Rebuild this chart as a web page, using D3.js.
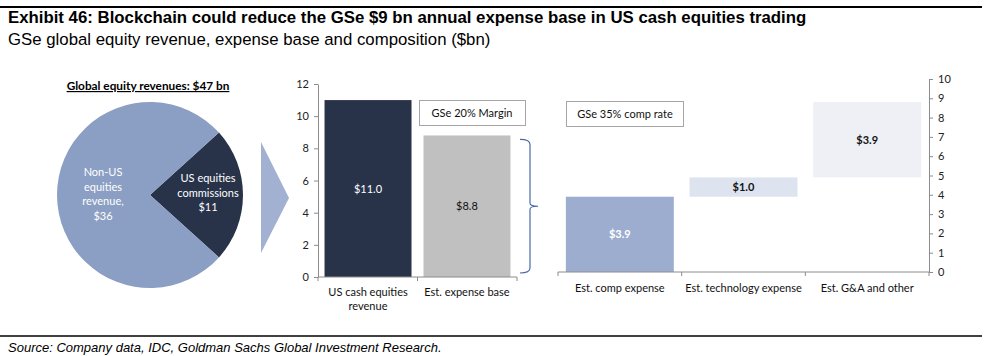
<!DOCTYPE html>
<html><head><meta charset="utf-8">
<script src="https://cdnjs.cloudflare.com/ajax/libs/d3/7.8.5/d3.min.js"></script>
<style>
body{margin:0;background:#fff;}
svg{display:block;}
</style></head>
<body><svg id="c" width="993" height="356"></svg>
<script>
// ---- data ----
const titleText = "Exhibit 46: Blockchain could reduce the GSe $9 bn annual expense base in US cash equities trading";
const subtitleText = "GSe global equity revenue, expense base and composition ($bn)";
const sourceText = "Source: Company data, IDC, Goldman Sachs Global Investment Research.";
const pieTitle = "Global equity revenues: $47 bn";
const pieLabels = [["US equities", "commissions", "$11"], ["Non-US", "equities", "revenue,", "$36"]];
const pieValues = [11, 36];
const leftCats = ["US cash equities revenue", "Est. expense base"];
const leftValues = [11.0, 8.8];
const leftValueLabels = ["$11.0", "$8.8"];
const leftTicks = [0, 2, 4, 6, 8, 10, 12];
const leftNote = "GSe 20% Margin";
const rightCats = ["Est. comp expense", "Est. technology expense", "Est. G&A and other"];
const rightValues = [3.9, 1.0, 3.9];
const rightValueLabels = ["$3.9", "$1.0", "$3.9"];
const rightTicks = [0, 1, 2, 3, 4, 5, 6, 7, 8, 9, 10];
const rightNote = "GSe 35% comp rate";

// ---- styles ----
const FONT = "Lato, 'Open Sans', sans-serif";
const HFONT = "'Liberation Sans', Arial, sans-serif";
const C_DARK = "#28334a", C_PIE = "#8b9ec3", C_ARROW = "#a2b1d1", C_GREY = "#c0c0c0";
const rightColors = ["#9dadcf", "#dde3ef", "#eef0f6"];
const rightTextColors = ["#fff", "#111", "#111"];
const AXIS = "#8c8c8c";

const svg = d3.select("#c");

// header
svg.append("line").attr("x1", 0).attr("x2", 982).attr("y1", 7).attr("y2", 7).attr("stroke", "#000").attr("stroke-width", 2);
svg.append("text").attr("x", 8).attr("y", 23).text(titleText)
  .attr("font-family", HFONT).attr("font-weight", "bold").attr("font-size", 16.8);
svg.append("text").attr("x", 8).attr("y", 45).text(subtitleText)
  .attr("font-family", HFONT).attr("font-size", 16.8);
// footer
svg.append("line").attr("x1", 0).attr("x2", 982).attr("y1", 336).attr("y2", 336).attr("stroke", "#000").attr("stroke-width", 1.5);
svg.append("text").attr("x", 8).attr("y", 352).text(sourceText)
  .attr("font-family", HFONT).attr("font-style", "italic").attr("font-size", 13);

// ---- pie ----
const pcx = 150, pcy = 195, pr = 93;
const half = Math.PI * pieValues[0] / d3.sum(pieValues);
const pie = d3.pie().sort(null).startAngle(Math.PI / 2 - half).endAngle(Math.PI / 2 - half + 2 * Math.PI);
const arcs = pie(pieValues);
const arc = d3.arc().innerRadius(0).outerRadius(pr);
const pg = svg.append("g").attr("transform", `translate(${pcx},${pcy})`);
pg.selectAll("path").data(arcs).join("path").attr("d", arc).attr("fill", (d, i) => i === 0 ? C_DARK : C_PIE);
const pieLabelPos = [[58, -13], [-47, -19]];
arcs.forEach((a, i) => {
  const t = pg.append("text").attr("text-anchor", "middle").attr("fill", "#fff")
    .attr("font-family", FONT).attr("font-size", 11);
  pieLabels[i].forEach((ln, j) => t.append("tspan").attr("x", pieLabelPos[i][0]).attr("y", pieLabelPos[i][1] + j * 14.5).text(ln));
});
svg.append("text").attr("x", 148).attr("y", 90).attr("text-anchor", "middle").text(pieTitle)
  .attr("font-family", FONT).attr("font-weight", "bold").attr("font-size", 11.8).attr("text-decoration", "underline");
// arrow
svg.append("path").attr("d", "M261,142 L289,198 L261,253 Z").attr("fill", C_ARROW);

// helpers
function wrap(textSel, width) {
  textSel.each(function () {
    const t = d3.select(this);
    const words = t.text().split(/\s+/);
    const x = t.attr("x") || 0, y = t.attr("y") || 0, dy = parseFloat(t.attr("dy") || 0);
    t.text(null);
    let line = [], ln = 0;
    let ts = t.append("tspan").attr("x", x).attr("y", y).attr("dy", dy + "em");
    for (const w of words) {
      line.push(w);
      ts.text(line.join(" "));
      if (ts.node().getComputedTextLength() > width && line.length > 1) {
        line.pop(); ts.text(line.join(" "));
        line = [w]; ln++;
        ts = t.append("tspan").attr("x", x).attr("y", y).attr("dy", (dy + ln * 1.25) + "em").text(w);
      }
    }
  });
}
function styleAxis(g) {
  g.selectAll("path.domain").attr("stroke", AXIS);
  g.selectAll(".tick line").attr("stroke", AXIS);
  g.selectAll(".tick text").attr("fill", "#222").attr("font-family", FONT).attr("font-size", 11);
}

// ---- left bar chart ----
const lx = d3.scaleBand().domain(leftCats).range([318, 517]).paddingInner(0.121).paddingOuter(0.066);
const ly = d3.scaleLinear().domain([0, 12]).range([277, 84]);
const lg = svg.append("g");
lg.append("g").attr("transform", "translate(318,0)")
  .call(d3.axisLeft(ly).tickValues(leftTicks).tickSize(4).tickSizeOuter(0).tickPadding(5))
  .call(styleAxis);
lg.selectAll("rect.bar").data(leftValues).join("rect")
  .attr("x", (d, i) => lx(leftCats[i])).attr("width", lx.bandwidth())
  .attr("y", d => ly(d)).attr("height", d => ly(0) - ly(d))
  .attr("fill", (d, i) => i === 0 ? C_DARK : C_GREY);
lg.selectAll("text.vl").data(leftValues).join("text")
  .attr("x", (d, i) => lx(leftCats[i]) + lx.bandwidth() / 2)
  .attr("y", d => (ly(d) + ly(0)) / 2 + 4)
  .attr("text-anchor", "middle").attr("font-family", FONT).attr("font-size", 11)
  .attr("fill", (d, i) => i === 0 ? "#fff" : "#111")
  .text((d, i) => leftValueLabels[i]);
// x axis
const lxa = lg.append("g").attr("transform", `translate(0,${ly(0)})`);
lxa.append("line").attr("x1", lx.range()[0]).attr("x2", lx.range()[1]).attr("stroke", AXIS);
const lBounds = [lx.range()[0], ...leftCats.slice(1).map(c => lx(c) - lx.step() * lx.paddingInner() / 2), lx.range()[1]];
lxa.selectAll("line.tk").data(lBounds).join("line").attr("x1", d => d).attr("x2", d => d).attr("y1", 0).attr("y2", 4).attr("stroke", AXIS);
lxa.selectAll("text").data(leftCats).join("text")
  .attr("x", c => lx(c) + lx.bandwidth() / 2).attr("y", 19)
  .attr("text-anchor", "middle").attr("font-family", FONT).attr("font-size", 11).attr("fill", "#111")
  .text(c => c).call(wrap, 95);
// note box
lg.append("rect").attr("x", 419.5).attr("y", 100.5).attr("width", 106).attr("height", 25).attr("fill", "#fff").attr("stroke", "#a6a6a6");
lg.append("text").attr("x", 472).attr("y", 117).attr("text-anchor", "middle").attr("font-family", FONT).attr("font-size", 11).attr("fill", "#111").text(leftNote);
// brace
const bTop = ly(leftValues[1]) + 4, bBot = ly(0) - 4, bMid = (bTop + bBot) / 2;
lg.append("path")
  .attr("d", `M520,${bTop} Q530,${bTop} 530,${bTop + 5} L530,${bMid - 3} Q530,${bMid} 538,${bMid} Q530,${bMid} 530,${bMid + 3} L530,${bBot - 5} Q530,${bBot} 520,${bBot}`)
  .attr("fill", "none").attr("stroke", "#4a6aa8").attr("stroke-width", 1.2);

// ---- right waterfall chart ----
const rx = d3.scaleBand().domain(rightCats).range([558, 929]).paddingInner(0.127).paddingOuter(0.0635);
const ry = d3.scaleLinear().domain([0, 10]).range([272, 79]);
const bases = rightValues.map((v, i) => d3.sum(rightValues.slice(0, i)));
const rg = svg.append("g");
rg.append("g").attr("transform", "translate(929,0)")
  .call(d3.axisRight(ry).tickValues(rightTicks).tickSize(4).tickSizeOuter(0).tickPadding(5))
  .call(styleAxis);
rg.selectAll("rect.bar").data(rightValues).join("rect")
  .attr("x", (d, i) => rx(rightCats[i])).attr("width", rx.bandwidth())
  .attr("y", (d, i) => ry(bases[i] + d)).attr("height", (d, i) => ry(bases[i]) - ry(bases[i] + d))
  .attr("fill", (d, i) => rightColors[i]);
rg.selectAll("text.vl").data(rightValues).join("text")
  .attr("x", (d, i) => rx(rightCats[i]) + rx.bandwidth() / 2)
  .attr("y", (d, i) => (ry(bases[i] + d) + ry(bases[i])) / 2 + 4)
  .attr("text-anchor", "middle").attr("font-family", FONT).attr("font-size", 11).attr("font-weight", "bold")
  .attr("fill", (d, i) => rightTextColors[i])
  .text((d, i) => rightValueLabels[i]);
const rxa = rg.append("g").attr("transform", `translate(0,${ry(0)})`);
rxa.append("line").attr("x1", rx.range()[0]).attr("x2", rx.range()[1]).attr("stroke", AXIS);
const rBounds = [rx.range()[0], ...rightCats.slice(1).map(c => rx(c) - rx.step() * rx.paddingInner() / 2), rx.range()[1]];
rxa.selectAll("line.tk").data(rBounds).join("line").attr("x1", d => d).attr("x2", d => d).attr("y1", 0).attr("y2", 4).attr("stroke", AXIS);
rxa.selectAll("text").data(rightCats).join("text")
  .attr("x", c => rx(c) + rx.bandwidth() / 2).attr("y", 20)
  .attr("text-anchor", "middle").attr("font-family", FONT).attr("font-size", 11).attr("fill", "#111")
  .text(c => c);
rg.append("rect").attr("x", 566.5).attr("y", 101.5).attr("width", 117).attr("height", 25).attr("fill", "#fff").attr("stroke", "#a6a6a6");
rg.append("text").attr("x", 625).attr("y", 118).attr("text-anchor", "middle").attr("font-family", FONT).attr("font-size", 11).attr("fill", "#111").text(rightNote);
</script></body></html>
